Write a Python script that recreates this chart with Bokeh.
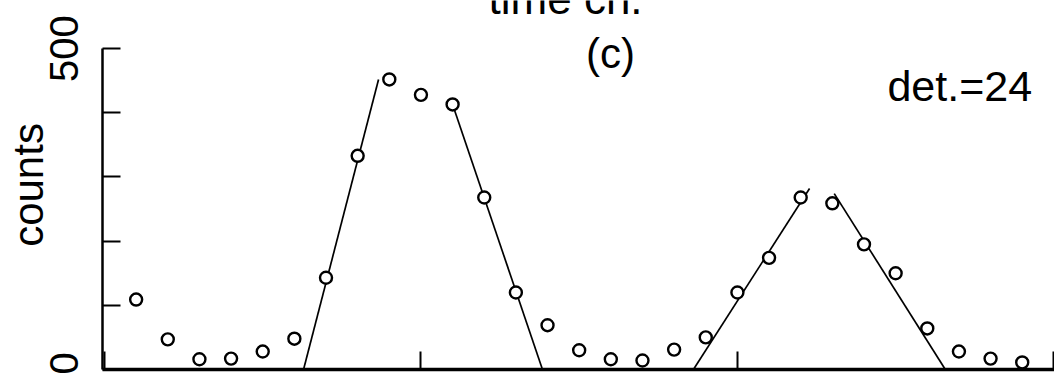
from bokeh.plotting import figure
from bokeh.models import Label, FixedTicker, Range1d
from bokeh.embed import file_html
from bokeh.resources import INLINE

# time channel and counts of detector 24
channels = list(range(1, 30))
counts = [109, 47, 16, 17, 28, 48, 143, 333, 452, 428,
          413, 268, 120, 69, 30, 16, 14, 31, 50, 120,
          174, 268, 259, 195, 150, 64, 28, 17, 11]

# straight-line fits to the flanks of the two peaks
fit_x = [[6.29, 8.66], [11.0, 13.84], [18.61, 22.28], [23.06, 26.57]]
fit_y = [[0, 452], [413, 0], [0, 282], [274, 0]]

x_ticks = [0, 10, 20, 30]
y_ticks = [0, 500]
y_minor_ticks = [100, 200, 300, 400]

FONT = "Liberation Sans"

p = figure(frame_width=952, frame_height=369,
           x_range=Range1d(-0.063, 30.02), y_range=Range1d(0, 575),
           output_backend="svg", toolbar_location=None,
           min_border_left=102, min_border_right=0,
           min_border_top=0, min_border_bottom=5)
p.xgrid.visible = False
p.ygrid.visible = False
p.outline_line_color = None
p.background_fill_color = "white"
p.border_fill_color = "white"

xa = p.xaxis[0]
xa.ticker = FixedTicker(ticks=x_ticks, minor_ticks=[])
xa.axis_line_width = 3.5
xa.axis_line_color = "black"
xa.major_tick_in = 18
xa.major_tick_out = 0
xa.major_tick_line_width = 2
xa.major_label_text_font_size = "0px"
xa.major_label_standoff = 0

ya = p.yaxis[0]
ya.ticker = FixedTicker(ticks=y_ticks, minor_ticks=y_minor_ticks)
ya.bounds = (0, 500)
ya.axis_line_width = 2.5
ya.axis_line_color = "black"
ya.major_tick_in = 18
ya.major_tick_out = 0
ya.minor_tick_in = 18
ya.minor_tick_out = 0
ya.major_tick_line_width = 2
ya.minor_tick_line_width = 2
ya.major_label_orientation = "vertical"
ya.major_label_text_font = FONT
ya.major_label_text_font_size = "40px"
ya.major_label_text_color = "black"
ya.major_label_standoff = 24
ya.axis_label = "counts"
ya.axis_label_text_font = FONT
ya.axis_label_text_font_size = "42px"
ya.axis_label_text_font_style = "normal"
ya.axis_label_text_color = "black"
ya.axis_label_standoff = -4

# fitted flanks
p.multi_line(fit_x, fit_y, line_color="black", line_width=1.7)

# measured points
p.scatter(channels, counts, marker="circle", size=12,
          fill_color="white", line_color="black", line_width=2.4)

# axis title of the panel above, partly out of view
p.add_layout(Label(x=14.57, y=578, text="time ch.",
                   text_align="center", text_baseline="middle",
                   text_font=FONT, text_font_size="44px", text_color="black"))

p.add_layout(Label(x=15.99, y=492, text="(c)",
                   text_align="center", text_baseline="middle",
                   text_font=FONT, text_font_size="42px", text_color="black"))

p.add_layout(Label(x=24.74, y=442, text="det.=24",
                   text_align="left", text_baseline="middle",
                   text_font=FONT, text_font_size="43px", text_color="black"))

open("out.html", "w").write(file_html(p, INLINE))
